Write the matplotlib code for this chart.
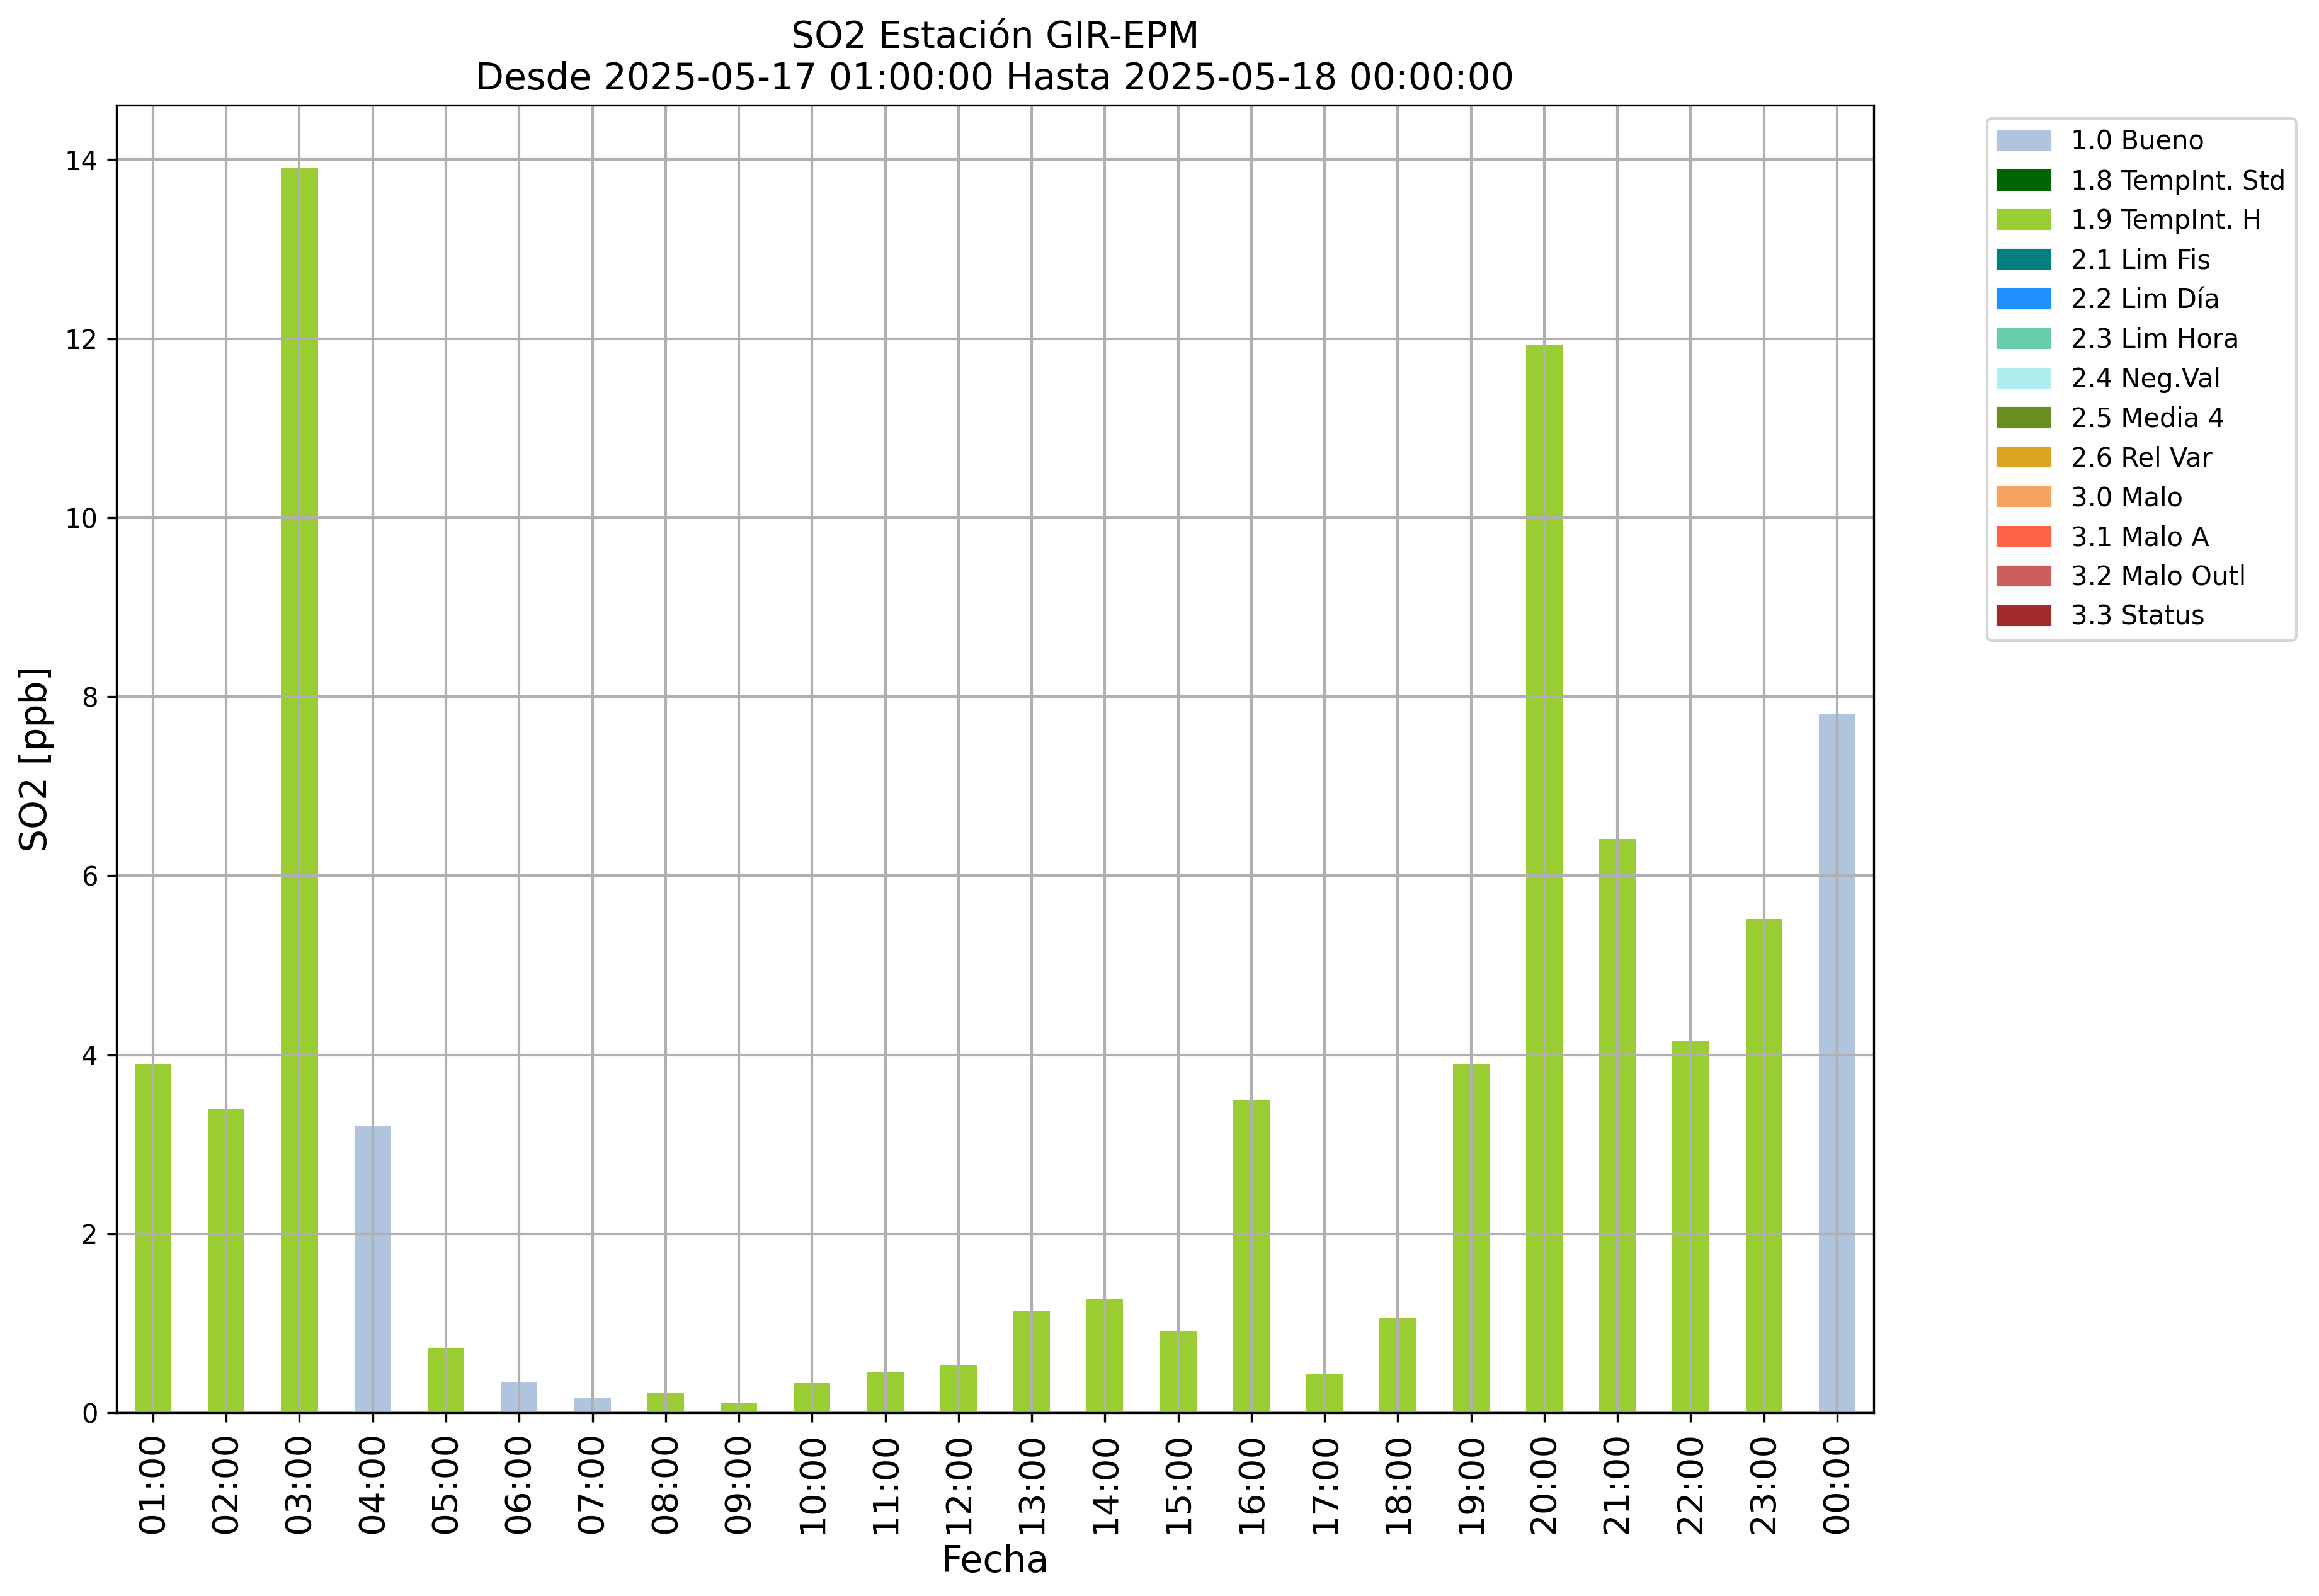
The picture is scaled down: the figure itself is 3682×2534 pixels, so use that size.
import numpy as np
import matplotlib.pyplot as plt
from matplotlib.patches import Patch

# ---------------------------------------------------------------------------------------
# SO2 hourly values, GIR-EPM station, with validation flag of each hour
horas = ["01:00", "02:00", "03:00", "04:00", "05:00", "06:00", "07:00", "08:00",
         "09:00", "10:00", "11:00", "12:00", "13:00", "14:00", "15:00", "16:00",
         "17:00", "18:00", "19:00", "20:00", "21:00", "22:00", "23:00", "00:00"]
so2 = [3.89, 3.39, 13.91, 3.21, 0.72, 0.34, 0.16, 0.22,
       0.11, 0.33, 0.45, 0.53, 1.14, 1.27, 0.91, 3.50,
       0.44, 1.06, 3.90, 11.93, 6.41, 4.15, 5.52, 7.81]
flags = ["1.9", "1.9", "1.9", "1.0", "1.9", "1.0", "1.0", "1.9",
         "1.9", "1.9", "1.9", "1.9", "1.9", "1.9", "1.9", "1.9",
         "1.9", "1.9", "1.9", "1.9", "1.9", "1.9", "1.9", "1.0"]

# flag codes, legend names and colours
codigos = ["1.0", "1.8", "1.9", "2.1", "2.2", "2.3", "2.4", "2.5", "2.6", "3.0", "3.1", "3.2", "3.3"]
nombres = ["1.0 Bueno", "1.8 TempInt. Std", "1.9 TempInt. H", "2.1 Lim Fis", "2.2 Lim Día",
           "2.3 Lim Hora", "2.4 Neg.Val", "2.5 Media 4", "2.6 Rel Var", "3.0 Malo",
           "3.1 Malo A", "3.2 Malo Outl", "3.3 Status"]
colores = ["lightsteelblue", "darkgreen", "yellowgreen", "teal", "dodgerblue",
           "mediumaquamarine", "paleturquoise", "olivedrab", "goldenrod", "sandybrown",
           "tomato", "indianred", "brown"]

fig = plt.figure(figsize=(3682 / 300, 2534 / 300), dpi=300)
ax = fig.add_axes([0.0502, 0.1148, 0.808 - 0.0502, 0.934 - 0.1148])

x = np.arange(len(horas))
so2 = np.array(so2)
flags = np.array(flags)
for cod, col in zip(codigos, colores):
    sel = flags == cod
    if sel.any():
        ax.bar(x[sel], so2[sel], width=0.5, color=col)

ax.set_xlim(-0.5, len(horas) - 0.5)
ax.set_ylim(0, so2.max() * 1.05)
ax.set_xticks(x)
ax.set_xticklabels(horas, rotation=90, fontsize=13.5)
ax.tick_params(axis='y', labelsize=10)
ax.grid(True, color='#b0b0b0', linewidth=1.0)

ax.set_xlabel("Fecha", fontsize=14)
ax.set_ylabel("SO2 [ppb]", fontsize=14)
ax.set_title("SO2 Estación GIR-EPM\nDesde 2025-05-17 01:00:00 Hasta 2025-05-18 00:00:00", fontsize=14)

handles = [Patch(color=c, label=n) for c, n in zip(colores, nombres)]
ax.legend(handles=handles, loc='upper left', bbox_to_anchor=(1.057, 1), fontsize=10)

fig.savefig("out.png", dpi=300)
